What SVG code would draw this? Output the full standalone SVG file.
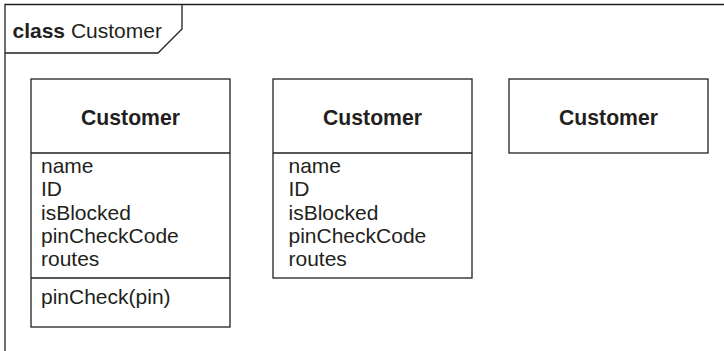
<svg xmlns="http://www.w3.org/2000/svg" width="724" height="351" viewBox="0 0 724 351">
<style>
.ln{fill:none;stroke:#231f20;stroke-width:1.3}
.bx{fill:#fff;stroke:#231f20;stroke-width:1.3}
.t{font-family:"Liberation Sans",Arial,sans-serif;fill:#231f20;font-size:21px}
.b{font-weight:bold}
.h{font-weight:bold;font-size:21.2px}
.ti{font-size:21px}
</style>
<rect width="724" height="351" fill="#fff"/>
<g id="frame">
<path class="ln" d="M5,351 V4.5 H724"/>
<path class="ln" d="M5,53 H158 L182,29 V4.5"/>
<text class="t ti" x="12.5" y="38"><tspan class="b">class</tspan> Customer</text>
</g>
<g id="customer1">
<rect class="bx" x="31" y="79" width="199" height="248"/>
<line class="ln" x1="31" y1="153" x2="230" y2="153"/>
<line class="ln" x1="31" y1="278" x2="230" y2="278"/>
<text class="t h" x="130.5" y="124.5" text-anchor="middle">Customer</text>
<text class="t" x="41" y="173">name</text>
<text class="t" x="41" y="196.3">ID</text>
<text class="t" x="41" y="219.6">isBlocked</text>
<text class="t" x="41" y="242.9">pinCheckCode</text>
<text class="t" x="41" y="266.2">routes</text>
<text class="t" x="41" y="303.5">pinCheck(pin)</text>
</g>
<g id="customer2">
<rect class="bx" x="273" y="79" width="199" height="199"/>
<line class="ln" x1="273" y1="153" x2="472" y2="153"/>
<text class="t h" x="372.5" y="124.5" text-anchor="middle">Customer</text>
<text class="t" x="288.5" y="173">name</text>
<text class="t" x="288.5" y="196.3">ID</text>
<text class="t" x="288.5" y="219.6">isBlocked</text>
<text class="t" x="288.5" y="242.9">pinCheckCode</text>
<text class="t" x="288.5" y="266.2">routes</text>
</g>
<g id="customer3">
<rect class="bx" x="509" y="79" width="199" height="74"/>
<text class="t h" x="608.5" y="124.5" text-anchor="middle">Customer</text>
</g>
<g id="connectors"></g>
</svg>
